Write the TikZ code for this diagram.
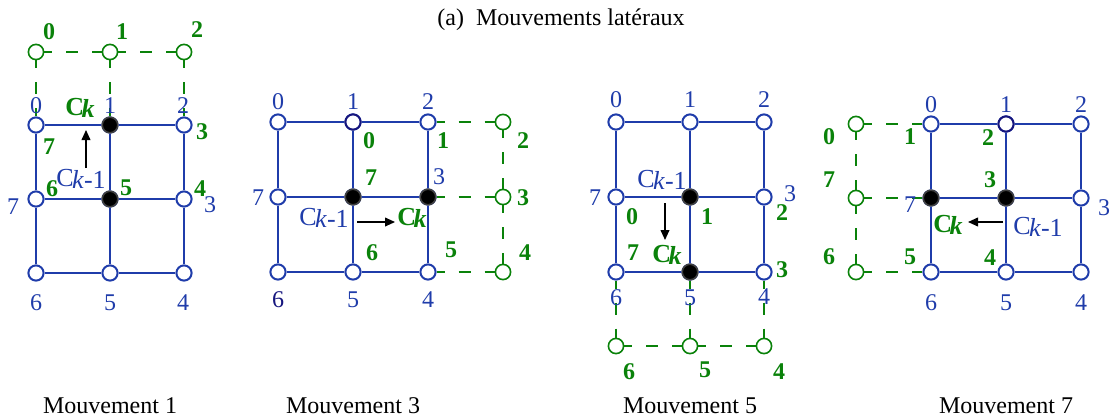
\documentclass[tikz,border=0pt]{standalone}
\usepackage{fontspec}
\setmainfont{Liberation Serif}
\usetikzlibrary{positioning, arrows.meta}
\definecolor{gridblue}{HTML}{1F3CAA}
\definecolor{gridnavy}{HTML}{16167E}
\definecolor{movegreen}{HTML}{0A820A}
\tikzset{
  pix/.style      = {circle, draw=gridblue, line width=1pt, fill=white,
                     inner sep=0pt, minimum size=7.6pt},
  pixon/.style    = {circle, draw=black!75, line width=0.8pt, fill=black,
                     inner sep=0pt, minimum size=7.8pt},
  pixnew/.style   = {circle, draw=movegreen, line width=0.8pt, fill=white,
                     inner sep=0pt, minimum size=7.6pt},
  gridline/.style = {draw=gridblue, line width=1pt},
  newline/.style  = {draw=movegreen, line width=0.8pt,
                     dash pattern=on 6pt off 7pt, dash phase=2pt},
  num/.style      = {inner sep=0pt, text=gridblue, font=\fontsize{12}{14}\selectfont},
  newnum/.style   = {inner sep=0pt, text=movegreen, font=\fontsize{12}{14}\selectfont\bfseries},
  mv/.style       = {-{Triangle[length=5pt,width=4.4pt]}, line width=0.7pt},
  caption/.style  = {inner sep=0pt, font=\fontsize{12}{14}\selectfont},
}
\newcommand{\Cnew}{C\kern-1.3pt\raisebox{-1pt}{\textit{k}}}
\newcommand{\Cold}{C\kern-0.8pt\raisebox{-1pt}{\textit{k}-1}}

\begin{document}
\begin{tikzpicture}[x=0.5pt, y=-0.5pt]
  \useasboundingbox (0,0) rectangle (1111,418);

  \node[caption] (title) at (561,20) {(a)~~Mouvements latéraux};

  % Mouvement 1
  \begin{scope}[shift={(36,125)}]
    \foreach \n/\i/\j in {0/0/0,1/1/0,2/2/0,3/2/1,4/2/2,5/1/2,6/0/2,7/0/1,c/1/1}
      \node[pix] (a\n) at (74*\i,74*\j) {};
    \node[pixon] (a1) at (a1) {};
    \node[pixon] (ac) at (ac) {};
    \foreach \n/\i in {0/0,1/1,2/2}
      \node[pixnew] (an\n) at (74*\i,-73) {};
    \draw[gridline] (a0) -- (a1) -- (a2) -- (a3) -- (a4) -- (a5) -- (a6) -- (a7) -- (a0);
    \draw[gridline] (a1) -- (ac) -- (a5) (a7) -- (ac) -- (a3);
    \draw[newline] (an0) -- (an1) -- (an2) (an0) -- (a0) (an1) -- (a1) (an2) -- (a2);
    \foreach \n/\x/\y in {0/0/-19,1/74/-19,2/147/-19,3/174/80,4/147/178,5/74/178,6/0/178,7/-23/82}
      \node[num] (al\n) at (\x,\y) {\n};
    \foreach \n/\x/\y in {0/13/-93,1/86/-93,2/161/-95,3/166/7,4/164/64,5/90/63,6/16/64,7/13/22}
      \node[newnum] (ag\n) at (\x,\y) {\n};
    \node[newnum, font=\fontsize{13}{15}\selectfont\bfseries] (aCk) at (44,-17) {\Cnew};
    \node[num, font=\fontsize{13}{15}\selectfont] (aCo) at (45,54) {\Cold};
    \coordinate (amvs) at (50,43);
    \coordinate (amve) at (50,5);
    \draw[mv] (amvs) -- (amve);
  \end{scope}

  % Mouvement 3
  \begin{scope}[shift={(278,122)}]
    \foreach \n/\i/\j in {0/0/0,1/1/0,2/2/0,3/2/1,4/2/2,5/1/2,6/0/2,7/0/1,c/1/1}
      \node[pix] (b\n) at (75*\i,75*\j) {};
    \node[pix, draw=gridnavy] (b1) at (b1) {};
    \node[pixon] (b3) at (b3) {};
    \node[pixon] (bc) at (bc) {};
    \foreach \n/\j in {2/0,3/1,4/2}
      \node[pixnew] (bn\n) at (225,75*\j) {};
    \draw[gridline] (b0) -- (b1) -- (b2) -- (b3) -- (b4) -- (b5) -- (b6) -- (b7) -- (b0);
    \draw[gridline] (b1) -- (bc) -- (b5) (b7) -- (bc) -- (b3);
    \draw[newline] (bn2) -- (bn3) -- (bn4) (b2) -- (bn2) (b3) -- (bn3) (b4) -- (bn4);
    \foreach \n/\x/\y in {0/0/-20,1/75/-20,2/150/-20,3/161/55,4/150/178,5/75/178,7/-20/76}
      \node[num] (bl\n) at (\x,\y) {\n};
    \node[num, text=gridnavy] (bl6) at (0,178) {6};
    \foreach \n/\x/\y in {0/91/19,1/165/19,2/245/19,3/245/76,4/247/131,5/173/128,6/94/131,7/93/56}
      \node[newnum] (bg\n) at (\x,\y) {\n};
    \node[newnum, font=\fontsize{13}{15}\selectfont\bfseries] (bCk) at (134,96) {\Cnew};
    \node[num, font=\fontsize{13}{15}\selectfont] (bCo) at (46,96) {\Cold};
    \coordinate (bmvs) at (79,100);
    \coordinate (bmve) at (117,100);
    \draw[mv] (bmvs) -- (bmve);
  \end{scope}

  % Mouvement 5
  \begin{scope}[shift={(616,122)}]
    \foreach \n/\i/\j in {0/0/0,1/1/0,2/2/0,3/2/1,4/2/2,5/1/2,6/0/2,7/0/1,c/1/1}
      \node[pix] (c\n) at (74*\i,75*\j) {};
    \node[pixon] (c5) at (c5) {};
    \node[pixon] (cc) at (cc) {};
    \foreach \n/\i in {6/0,5/1,4/2}
      \node[pixnew] (cn\n) at (74*\i,224) {};
    \draw[gridline] (c0) -- (c1) -- (c2) -- (c3) -- (c4) -- (c5) -- (c6) -- (c7) -- (c0);
    \draw[gridline] (c1) -- (cc) -- (c5) (c7) -- (cc) -- (c3);
    \draw[newline] (cn6) -- (cn5) -- (cn4) (c6) -- (cn6) (c5) -- (cn5) (c4) -- (cn4);
    \foreach \n/\x/\y in {0/0/-22,1/74/-22,2/148/-22,3/174/72,4/148/175,5/74/176,6/0/176,7/-21/76}
      \node[num] (cl\n) at (\x,\y) {\n};
    \foreach \n/\x/\y in {0/16/95,1/91/95,2/166/91,3/166/148,4/163/250,5/89/248,6/13/250,7/17/131}
      \node[newnum] (cg\n) at (\x,\y) {\n};
    \node[newnum, font=\fontsize{13}{15}\selectfont\bfseries] (cCk) at (51,133) {\Cnew};
    \node[num, font=\fontsize{13}{15}\selectfont] (cCo) at (46,58) {\Cold};
    \coordinate (cmvs) at (49,81);
    \coordinate (cmve) at (49,118);
    \draw[mv] (cmvs) -- (cmve);
  \end{scope}

  % Mouvement 7
  \begin{scope}[shift={(931,124)}]
    \foreach \n/\i/\j in {0/0/0,1/1/0,2/2/0,3/2/1,4/2/2,5/1/2,6/0/2,7/0/1,c/1/1}
      \node[pix] (d\n) at (75*\i,74*\j) {};
    \node[pix, draw=gridnavy] (d1) at (d1) {};
    \node[pixon] (d7) at (d7) {};
    \node[pixon] (dc) at (dc) {};
    \foreach \n/\j in {0/0,7/1,6/2}
      \node[pixnew] (dn\n) at (-75,74*\j) {};
    \draw[gridline] (d0) -- (d1) -- (d2) -- (d3) -- (d4) -- (d5) -- (d6) -- (d7) -- (d0);
    \draw[gridline] (d1) -- (dc) -- (d5) (d7) -- (dc) -- (d3);
    \draw[newline] (dn0) -- (dn7) -- (dn6) (dn0) -- (d0) (dn7) -- (d7) (dn6) -- (d6);
    \foreach \n/\x/\y in {0/0/-19,1/75/-19,2/150/-19,3/173/84,4/150/179,5/75/179,6/0/179,7/-21/81}
      \node[num] (dl\n) at (\x,\y) {\n};
    \foreach \n/\x/\y in {0/-102/13,1/-21/13,2/57/14,3/59/56,4/59/134,5/-21/133,6/-102/133,7/-102/56}
      \node[newnum] (dg\n) at (\x,\y) {\n};
    \node[newnum, font=\fontsize{13}{15}\selectfont\bfseries] (dCk) at (17,101) {\Cnew};
    \node[num, font=\fontsize{13}{15}\selectfont] (dCo) at (107,103) {\Cold};
    \coordinate (dmvs) at (72,98);
    \coordinate (dmve) at (37,98);
    \draw[mv] (dmvs) -- (dmve);
  \end{scope}

  \node[caption] (capA) at (110,406) {Mouvement 1};
  \node[caption] (capB) at (353,406) {Mouvement 3};
  \node[caption] (capC) at (690,406) {Mouvement 5};
  \node[caption] (capD) at (1006,406) {Mouvement 7};
\end{tikzpicture}
\end{document}
